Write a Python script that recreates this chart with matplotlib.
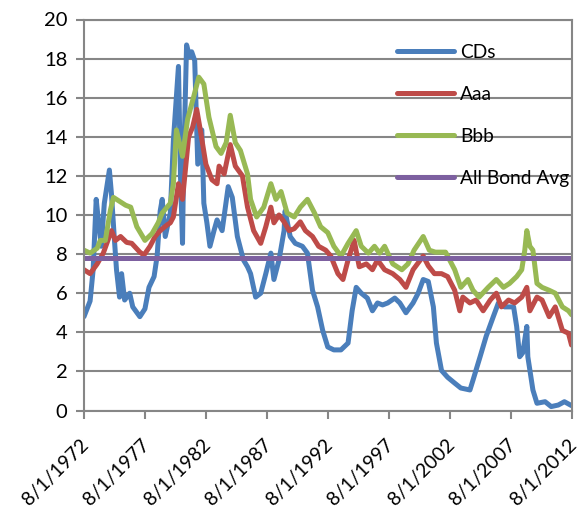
import matplotlib
matplotlib.use("Agg")
import matplotlib.pyplot as plt
import matplotlib.transforms as mtransforms

# ---- data (month index from 8/1/1972, value in %) ----
tick_labels = ["8/1/1972", "8/1/1977", "8/1/1982", "8/1/1987", "8/1/1992",
               "8/1/1997", "8/1/2002", "8/1/2007", "8/1/2012"]
tick_months = [0, 60, 120, 180, 240, 300, 360, 420, 480]

cd_month = [0, 3, 6, 9, 12, 14, 17, 20, 25, 27, 30, 32, 35, 37, 40, 45, 48, 55, 60,
            64, 69, 72, 75, 77, 80, 85, 88, 93, 95, 97, 98, 101, 104, 106, 109, 112,
            116, 118, 121, 124, 128, 131, 136, 142, 146, 151, 157, 161, 164, 169, 174,
            179, 184, 187, 192, 197, 198, 203, 208, 215, 220, 225, 230, 235, 240, 246,
            253, 260, 264, 268, 273, 279, 284, 289, 294, 299, 306, 311, 317, 324, 329,
            334, 339, 344, 347, 352, 358, 365, 371, 380, 383, 390, 396, 403, 408, 414,
            423, 426, 429, 432, 436, 437, 442, 446, 454, 460, 467, 473, 480]
cd_rate = [4.8, 5.2, 5.6, 7.2, 10.8, 9.8, 8.4, 10.6, 12.3, 11.1, 8.7, 7.2, 5.8, 7.0,
           5.65, 6.0, 5.3, 4.8, 5.2, 6.3, 6.85, 7.9, 10.2, 10.8, 8.9, 10.1, 13.8, 17.6,
           12.0, 8.55, 12.3, 18.7, 18.1, 18.35, 17.9, 12.6, 14.35, 10.6, 9.6, 8.4, 9.2,
           9.75, 9.2, 11.45, 10.9, 8.9, 7.7, 7.35, 7.0, 5.8, 6.0, 7.0, 8.05, 6.7, 7.7,
           9.2, 10.2, 8.9, 8.55, 8.4, 8.05, 6.15, 5.3, 4.1, 3.25, 3.1, 3.1, 3.45, 5.1,
           6.3, 6.0, 5.75, 5.1, 5.5, 5.4, 5.5, 5.75, 5.5, 5.0, 5.5, 6.0, 6.7, 6.6, 5.3,
           3.45, 2.05, 1.7, 1.4, 1.15, 1.05, 1.55, 2.75, 3.8, 4.8, 5.5, 5.3, 5.3, 4.3,
           2.75, 2.95, 4.3, 2.75, 1.05, 0.37, 0.45, 0.2, 0.28, 0.45, 0.25]

aaa_month = [0, 6, 13, 19, 27, 31, 36, 42, 47, 55, 59, 65, 70, 75, 82, 85, 88, 93, 97,
             103, 107, 111, 115, 120, 126, 131, 133, 138, 144, 149, 156, 161, 167, 174,
             179, 184, 187, 192, 197, 202, 207, 213, 218, 225, 231, 238, 243, 250, 255,
             260, 266, 271, 278, 284, 289, 296, 304, 311, 317, 324, 334, 339, 345, 352,
             358, 365, 370, 373, 380, 386, 393, 400, 406, 411, 418, 424, 431, 436, 439,
             446, 451, 458, 464, 471, 477, 480]
aaa_rate = [7.2, 7.0, 7.5, 8.05, 9.2, 8.7, 8.9, 8.6, 8.55, 8.1, 7.95, 8.4, 8.9, 9.2,
            9.5, 9.6, 9.9, 11.6, 10.8, 14.0, 14.5, 15.4, 14.2, 12.6, 11.8, 11.6, 12.5,
            12.1, 13.6, 12.5, 12.0, 10.4, 9.2, 8.55, 9.4, 10.4, 9.6, 10.0, 9.65, 9.2,
            9.3, 9.65, 9.2, 8.9, 8.4, 8.2, 7.9, 7.0, 6.7, 7.7, 8.7, 7.35, 7.5, 7.2, 7.7,
            7.2, 7.0, 6.7, 6.3, 7.2, 7.9, 7.4, 7.0, 7.0, 6.85, 6.15, 5.1, 5.8, 5.5, 5.65,
            5.1, 5.65, 6.0, 5.3, 5.65, 5.5, 5.8, 6.3, 5.1, 5.8, 5.65, 4.8, 5.3, 4.1, 3.95,
            3.35]

bbb_month = [0, 6, 13, 16, 21, 26, 29, 35, 41, 46, 52, 60, 67, 73, 77, 85, 88, 91, 97,
             102, 108, 113, 118, 123, 130, 135, 140, 144, 149, 154, 161, 164, 170, 177,
             184, 189, 194, 200, 207, 213, 220, 227, 233, 240, 246, 253, 260, 268, 273,
             280, 286, 291, 296, 304, 313, 319, 325, 334, 340, 346, 356, 365, 371, 378,
             383, 389, 398, 406, 413, 419, 426, 431, 434, 436, 439, 442, 446, 451, 458,
             464, 471, 477, 480]
bbb_rate = [8.2, 8.05, 8.3, 8.7, 8.7, 10.25, 10.9, 10.7, 10.5, 10.4, 9.4, 8.7, 9.05,
            9.6, 10.1, 10.6, 11.6, 14.35, 13.0, 14.9, 16.05, 17.05, 16.7, 15.0, 13.5,
            13.15, 13.7, 15.1, 13.7, 13.3, 12.1, 10.8, 9.9, 10.4, 11.6, 10.8, 11.2, 10.1,
            9.9, 10.4, 10.8, 10.1, 9.4, 9.1, 8.4, 7.9, 8.55, 9.2, 8.4, 8.05, 8.4, 8.05,
            8.4, 7.5, 7.2, 7.5, 8.2, 8.9, 8.2, 8.1, 8.1, 7.2, 6.3, 6.7, 6.15, 5.8, 6.3,
            6.7, 6.3, 6.5, 6.85, 7.2, 8.2, 9.2, 8.4, 8.2, 6.5, 6.3, 6.15, 6.0, 5.3, 5.1,
            4.9]

avg_month = [0, 480]
avg_rate = [7.8, 7.8]

series_names = ["CDs", "Aaa", "Bbb", "All Bond Avg"]
colors = ["#4A7EBB", "#BE4B48", "#98B954", "#7D60A0"]

# ---- figure ----
plt.rcParams['font.family'] = ['Lato', 'DejaVu Sans']
fig = plt.figure(figsize=(5.79, 5.18), dpi=100)
ax = fig.add_axes([84 / 579, 1 - 410.5 / 518, (571.5 - 84) / 579, (410.5 - 19.5) / 518])

grid_c = "#868686"
ax.set_xlim(0, 480)
ax.set_ylim(0, 20)
ax.set_yticks(range(0, 21, 2))
ax.yaxis.grid(True, color=grid_c, linewidth=1.5)
ax.set_axisbelow(True)

lw = 3.6
for xs, ys, c, n in [(cd_month, cd_rate, colors[0], series_names[0]),
                     (aaa_month, aaa_rate, colors[1], series_names[1]),
                     (bbb_month, bbb_rate, colors[2], series_names[2])]:
    ax.plot(xs, ys, color=c, lw=lw, label=n,
            solid_joinstyle='round', solid_capstyle='round')
ax.plot(avg_month, avg_rate, color=colors[3], lw=lw, label=series_names[3],
        solid_capstyle='butt')

for s in ax.spines.values():
    s.set_color(grid_c)
    s.set_linewidth(1.5)

ax.set_xticks(tick_months)
ax.set_xticklabels(tick_labels, rotation=45, ha='right', va='center',
                   rotation_mode='anchor')
ax.tick_params(axis='both', colors=grid_c, width=1.5, length=6, labelsize=14.5,
               labelcolor='black')
ax.tick_params(axis='x', labelsize=14, pad=10)
ax.tick_params(axis='y', pad=6)

offset = mtransforms.ScaledTranslation(2 / 100, -9 / 100, fig.dpi_scale_trans)
for lab in ax.get_xticklabels():
    lab.set_transform(lab.get_transform() + offset)

leg = ax.legend(loc='upper left', bbox_to_anchor=(0.642, 0.937), frameon=False,
                fontsize=13.8, handlelength=3.0, handletextpad=0.3,
                labelspacing=1.3, borderaxespad=0, borderpad=0)
for line in leg.get_lines():
    line.set_linewidth(3.6)
    line.set_solid_capstyle('round')

fig.savefig("out.png", dpi=100)
